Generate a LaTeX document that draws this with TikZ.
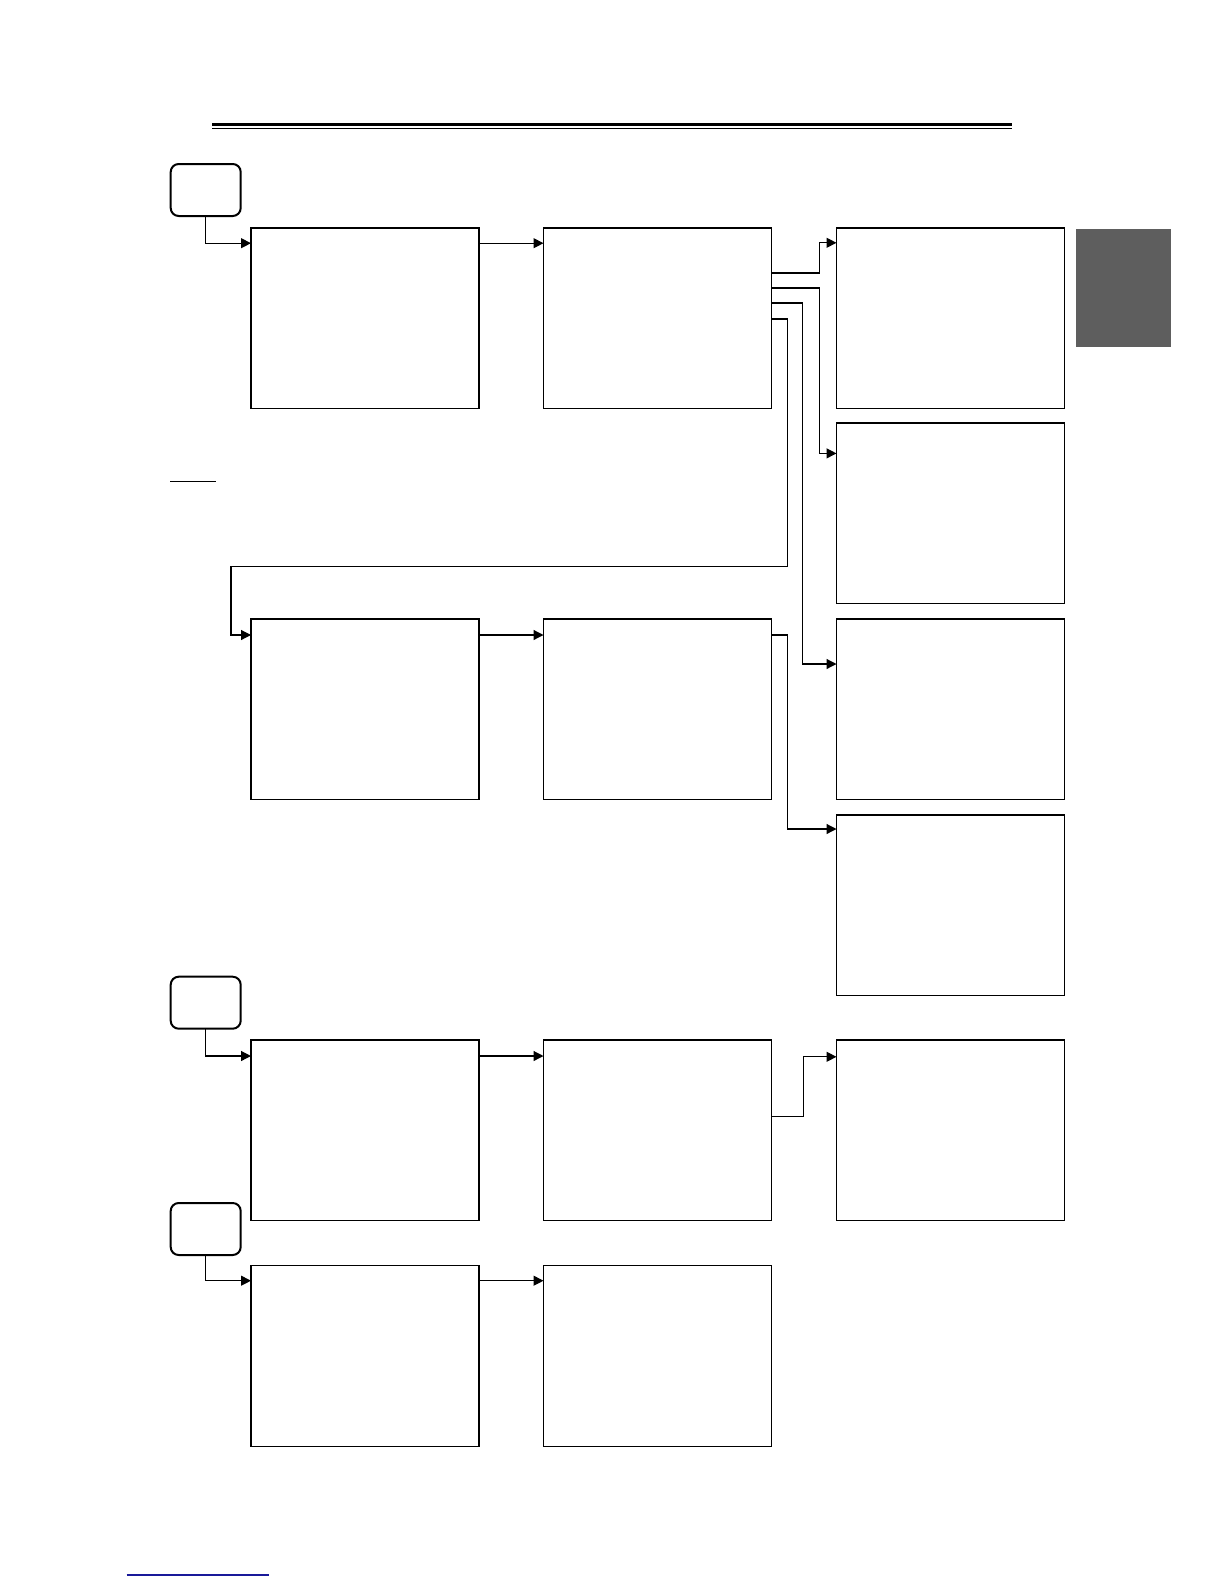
\documentclass[tikz,border=0pt]{standalone}
\usepackage{tikz}
\usetikzlibrary{arrows.meta, positioning, calc}
\definecolor{lienbleu}{rgb}{0.1, 0.1, 0.6}
\definecolor{onglet}{rgb}{0.37, 0.37, 0.37}
\tikzstyle{boite} = [rectangle, anchor = north west, minimum width = 114pt, minimum height = 90.3pt, inner sep = 0pt, outer sep = 0pt, draw = black, line width = 0.6pt]
\tikzstyle{debut} = [rectangle, rounded corners = 4pt, anchor = north west, minimum width = 35pt, minimum height = 26pt, inner sep = 0pt, outer sep = 0pt, draw = black, line width = 1pt]
\tikzstyle{fleche} = [-{Triangle[length = 5pt, width = 5pt]}, line width = 0.6pt]

\begin{document}
\begin{tikzpicture}[x = 0.5pt, y = -0.5pt]
\useasboundingbox (0,0) rectangle (1224,1584);
% en-tete et marques
\draw[line width = 1.65pt] (212,124.4) -- (1011.7,124.4);
\draw[line width = 0.5pt] (212,128.4) -- (1011.7,128.4);
\fill[onglet] (1076,229) rectangle (1171,347);
\draw[line width = 0.6pt] (170,481.3) -- (215.7,481.3);
\draw[lienbleu, line width = 0.6pt] (126.7,1575) -- (269,1575);
% premier bloc
\node (s1) [debut] at (170.7,164) {};
\node (a1) [boite] at (251,228) {};
\node (a2) [boite] at (543.5,228) {};
\node (c1) [boite] at (836.5,228) {};
\node (c2) [boite] at (836.5,423) {};
\node (c3) [boite] at (836.5,619) {};
\node (c4) [boite] at (836.5,815) {};
\node (b1) [boite] at (251,619) {};
\node (b2) [boite] at (543.5,619) {};
\coordinate (coude) at (231,566.6);
\draw[fleche] (s1.south) |- ([yshift = -7.6pt]a1.north west);
\draw[fleche] ([yshift = -7.6pt]a1.north east) -- ([yshift = -7.6pt]a2.north west);
\draw[fleche] ([yshift = -22.5pt]a2.north east) -- ++(47.6,0) |- ([yshift = -7.4pt]c1.north west);
\draw[fleche] ([yshift = -30pt]a2.north east) -- ++(47.6,0) |- ([yshift = -15.2pt]c2.north west);
\draw[fleche] ([yshift = -37.5pt]a2.north east) -- ++(30.6,0) |- ([yshift = -22.5pt]c3.north west);
\draw[fleche] ([yshift = -45.5pt]a2.north east) -- ++(15.6,0) |- (coude) |- ([yshift = -8pt]b1.north west);
\draw[fleche] ([yshift = -8pt]b1.north east) -- ([yshift = -8pt]b2.north west);
\draw[fleche] ([yshift = -8pt]b2.north east) -- ++(16.3,0) |- ([yshift = -7pt]c4.north west);
% deuxieme bloc
\node (s2) [debut] at (170.7,976.7) {};
\node (d1) [boite] at (251,1040) {};
\node (d2) [boite] at (543.5,1040) {};
\node (d3) [boite] at (836.5,1040) {};
\draw[fleche] (s2.south) |- ([yshift = -8pt]d1.north west);
\draw[fleche] ([yshift = -8pt]d1.north east) -- ([yshift = -8pt]d2.north west);
\draw[fleche] ([yshift = -38.2pt]d2.north east) -- ++(31.6,0) |- ([yshift = -8.4pt]d3.north west);
% troisieme bloc
\node (s3) [debut] at (170.7,1203) {};
\node (e1) [boite] at (251,1265.5) {};
\node (e2) [boite] at (543.5,1265.5) {};
\draw[fleche] (s3.south) |- ([yshift = -7.6pt]e1.north west);
\draw[fleche] ([yshift = -7.6pt]e1.north east) -- ([yshift = -7.6pt]e2.north west);
\end{tikzpicture}
\end{document}
